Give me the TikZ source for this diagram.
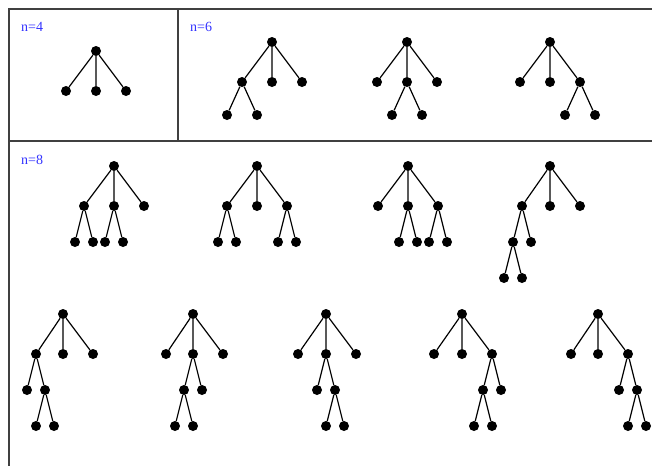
\documentclass[tikz,border=0pt]{standalone}
\usepackage{fontspec}
\setmainfont{Liberation Serif}
\usepackage{tikz}
\definecolor{lblblue}{RGB}{51,51,255}
\tikzset{
  dot/.style={circle,fill=black,inner sep=0pt,minimum size=10pt},
  edge/.style={line width=1.2pt},
  frame/.style={line width=1.2pt,black!75},
  lbl/.style={anchor=base west,inner sep=0pt,text=lblblue,font=\fontsize{14}{16}\selectfont}
}
\begin{document}
\begin{tikzpicture}[x=1pt,y=-1pt]
\useasboundingbox (0,0) rectangle (652,466);
\draw[frame] (652,9) -- (9,9) -- (9,466);
\draw[frame] (178,9) -- (178,141);
\draw[frame] (9,141) -- (652,141);
\node[lbl] (n4) at (21,31) {n=4};
\node[lbl] (n6) at (190,31) {n=6};
\node[lbl] (n8) at (21,164) {n=8};
%n=4
\begin{scope}[shift={(96,51)}]
\node[dot] (r) at (0,0) {};
\node[dot] (a) at (-30,40) {};
\node[dot] (b) at (0,40) {};
\node[dot] (c) at (30,40) {};
\draw[edge] (r) -- (a) (r) -- (b) (r) -- (c);
\end{scope}
%n=6
\begin{scope}[shift={(272,42)}]
\node[dot] (r) at (0,0) {};
\node[dot] (a) at (-30,40) {};
\node[dot] (b) at (0,40) {};
\node[dot] (c) at (30,40) {};
\node[dot] (a1) at (-45,73) {};
\node[dot] (a2) at (-15,73) {};
\draw[edge] (r) -- (a) (r) -- (b) (r) -- (c);
\draw[edge] (a) -- (a1) (a) -- (a2);
\end{scope}
\begin{scope}[shift={(407,42)}]
\node[dot] (r) at (0,0) {};
\node[dot] (a) at (-30,40) {};
\node[dot] (b) at (0,40) {};
\node[dot] (c) at (30,40) {};
\node[dot] (b1) at (-15,73) {};
\node[dot] (b2) at (15,73) {};
\draw[edge] (r) -- (a) (r) -- (b) (r) -- (c);
\draw[edge] (b) -- (b1) (b) -- (b2);
\end{scope}
\begin{scope}[shift={(550,42)}]
\node[dot] (r) at (0,0) {};
\node[dot] (a) at (-30,40) {};
\node[dot] (b) at (0,40) {};
\node[dot] (c) at (30,40) {};
\node[dot] (c1) at (15,73) {};
\node[dot] (c2) at (45,73) {};
\draw[edge] (r) -- (a) (r) -- (b) (r) -- (c);
\draw[edge] (c) -- (c1) (c) -- (c2);
\end{scope}
%n=8, first row
\begin{scope}[shift={(114,166)}]
\node[dot] (r) at (0,0) {};
\node[dot] (a) at (-30,40) {};
\node[dot] (b) at (0,40) {};
\node[dot] (c) at (30,40) {};
\node[dot] (a1) at (-39,76) {};
\node[dot] (a2) at (-21,76) {};
\node[dot] (b1) at (-9,76) {};
\node[dot] (b2) at (9,76) {};
\draw[edge] (r) -- (a) (r) -- (b) (r) -- (c);
\draw[edge] (a) -- (a1) (a) -- (a2) (b) -- (b1) (b) -- (b2);
\end{scope}
\begin{scope}[shift={(257,166)}]
\node[dot] (r) at (0,0) {};
\node[dot] (a) at (-30,40) {};
\node[dot] (b) at (0,40) {};
\node[dot] (c) at (30,40) {};
\node[dot] (a1) at (-39,76) {};
\node[dot] (a2) at (-21,76) {};
\node[dot] (c1) at (21,76) {};
\node[dot] (c2) at (39,76) {};
\draw[edge] (r) -- (a) (r) -- (b) (r) -- (c);
\draw[edge] (a) -- (a1) (a) -- (a2) (c) -- (c1) (c) -- (c2);
\end{scope}
\begin{scope}[shift={(408,166)}]
\node[dot] (r) at (0,0) {};
\node[dot] (a) at (-30,40) {};
\node[dot] (b) at (0,40) {};
\node[dot] (c) at (30,40) {};
\node[dot] (b1) at (-9,76) {};
\node[dot] (b2) at (9,76) {};
\node[dot] (c1) at (21,76) {};
\node[dot] (c2) at (39,76) {};
\draw[edge] (r) -- (a) (r) -- (b) (r) -- (c);
\draw[edge] (b) -- (b1) (b) -- (b2) (c) -- (c1) (c) -- (c2);
\end{scope}
\begin{scope}[shift={(550,166)}]
\node[dot] (r) at (0,0) {};
\node[dot] (a) at (-28,40) {};
\node[dot] (b) at (0,40) {};
\node[dot] (c) at (30,40) {};
\node[dot] (a1) at (-37,76) {};
\node[dot] (a2) at (-19,76) {};
\node[dot] (a11) at (-46,112) {};
\node[dot] (a12) at (-28,112) {};
\draw[edge] (r) -- (a) (r) -- (b) (r) -- (c);
\draw[edge] (a) -- (a1) (a) -- (a2);
\draw[edge] (a1) -- (a11) (a1) -- (a12);
\end{scope}
%n=8, second row
\begin{scope}[shift={(63,314)}]
\node[dot] (r) at (0,0) {};
\node[dot] (a) at (-27,40) {};
\node[dot] (b) at (0,40) {};
\node[dot] (c) at (30,40) {};
\node[dot] (a1) at (-36,76) {};
\node[dot] (a2) at (-18,76) {};
\node[dot] (a21) at (-27,112) {};
\node[dot] (a22) at (-9,112) {};
\draw[edge] (r) -- (a) (r) -- (b) (r) -- (c);
\draw[edge] (a) -- (a1) (a) -- (a2);
\draw[edge] (a2) -- (a21) (a2) -- (a22);
\end{scope}
\begin{scope}[shift={(193,314)}]
\node[dot] (r) at (0,0) {};
\node[dot] (a) at (-27,40) {};
\node[dot] (b) at (0,40) {};
\node[dot] (c) at (30,40) {};
\node[dot] (b1) at (-9,76) {};
\node[dot] (b2) at (9,76) {};
\node[dot] (b11) at (-18,112) {};
\node[dot] (b12) at (0,112) {};
\draw[edge] (r) -- (a) (r) -- (b) (r) -- (c);
\draw[edge] (b) -- (b1) (b) -- (b2);
\draw[edge] (b1) -- (b11) (b1) -- (b12);
\end{scope}
\begin{scope}[shift={(326,314)}]
\node[dot] (r) at (0,0) {};
\node[dot] (a) at (-28,40) {};
\node[dot] (b) at (0,40) {};
\node[dot] (c) at (30,40) {};
\node[dot] (b1) at (-9,76) {};
\node[dot] (b2) at (9,76) {};
\node[dot] (b21) at (0,112) {};
\node[dot] (b22) at (18,112) {};
\draw[edge] (r) -- (a) (r) -- (b) (r) -- (c);
\draw[edge] (b) -- (b1) (b) -- (b2);
\draw[edge] (b2) -- (b21) (b2) -- (b22);
\end{scope}
\begin{scope}[shift={(462,314)}]
\node[dot] (r) at (0,0) {};
\node[dot] (a) at (-28,40) {};
\node[dot] (b) at (0,40) {};
\node[dot] (c) at (30,40) {};
\node[dot] (c1) at (21,76) {};
\node[dot] (c2) at (39,76) {};
\node[dot] (c11) at (12,112) {};
\node[dot] (c12) at (30,112) {};
\draw[edge] (r) -- (a) (r) -- (b) (r) -- (c);
\draw[edge] (c) -- (c1) (c) -- (c2);
\draw[edge] (c1) -- (c11) (c1) -- (c12);
\end{scope}
\begin{scope}[shift={(598,314)}]
\node[dot] (r) at (0,0) {};
\node[dot] (a) at (-27,40) {};
\node[dot] (b) at (0,40) {};
\node[dot] (c) at (30,40) {};
\node[dot] (c1) at (21,76) {};
\node[dot] (c2) at (39,76) {};
\node[dot] (c21) at (30,112) {};
\node[dot] (c22) at (48,112) {};
\draw[edge] (r) -- (a) (r) -- (b) (r) -- (c);
\draw[edge] (c) -- (c1) (c) -- (c2);
\draw[edge] (c2) -- (c21) (c2) -- (c22);
\end{scope}
\end{tikzpicture}
\end{document}
